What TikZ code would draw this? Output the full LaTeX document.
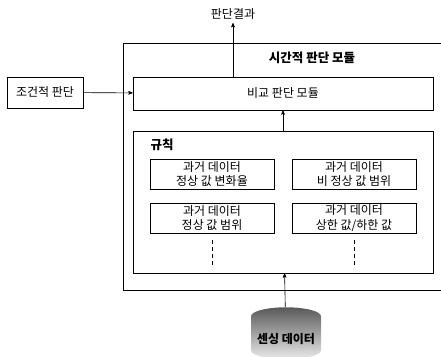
\documentclass[tikz,border=0pt]{standalone}
\usepackage{fontspec}
\newfontfamily\kr{Noto Sans CJK KR}
\usetikzlibrary{arrows,shapes,positioning,calc}

\begin{document}
\begin{tikzpicture}[->,>=stealth',semithick,x=1pt,y=-1pt,
node distance=142pt,
font=\kr\fontsize{12}{14.5}\selectfont]

\tikzstyle{block}=[rectangle, draw, line width=0.8pt, text centered, align=center, inner sep=0pt]
\tikzstyle{rulebox}=[block, minimum width=124pt, minimum height=30pt]
\tikzstyle{heading}=[font=\kr\bfseries\fontsize{12.5}{14}\selectfont]

\useasboundingbox (0,0) rectangle (441,356);
\clip (0,0) rectangle (441,356);

%module frame
\node[block, minimum width=330pt, minimum height=247pt]
(mod) at (288,166.5)
{};

\node[heading]
(title) at (312,58)
{시간적 판단 모듈};

\node[block, minimum width=76pt, minimum height=31pt]
(cond) at (45,92.5)
{조건적 판단};

\node[block, minimum width=300pt, minimum height=33pt]
(cmp) at (283,93.5)
{비교 판단 모듈};

\node
(res) at (233,14)
{판단결과};

%rules
\node[block, minimum width=300pt, minimum height=142pt]
(rules) at (283,202)
{};

\node[heading]
(rtitle) at (162,145)
{규칙};

\node[rulebox]
(r1) at (212,174)
{과거 데이터\\정상 값 변화율};

\node[rulebox]
(r2) [right of=r1]
{과거 데이터\\비 정상 값 범위};

\node[rulebox]
(r3) [below of=r1, node distance=44pt]
{과거 데이터\\정상 값 범위};

\node[rulebox]
(r4) [below of=r2, node distance=44pt]
{과거 데이터\\상한 값/하한 값};

\coordinate (e3) at (r3 |- 0,268);
\coordinate (e4) at (r4 |- 0,268);

%data
\node[cylinder, shape border rotate=90, aspect=0.3, draw=none,
minimum width=70pt, minimum height=52pt, inner sep=1pt,
top color=black!65, bottom color=black!8]
(db) at (286,339)
{\bfseries 센싱 데이터};

\path[->] (cond) edge (cmp);
\path[->] (cmp.north -| res) edge (res);
\path[->] (rules) edge (cmp);
\path[->] (db) edge (rules);
\path[-,dashed,dash pattern=on 4pt off 3pt,shorten <=7pt] (r3) edge (e3);
\path[-,dashed,dash pattern=on 4pt off 3pt,shorten <=7pt] (r4) edge (e4);

\end{tikzpicture}
\end{document}
